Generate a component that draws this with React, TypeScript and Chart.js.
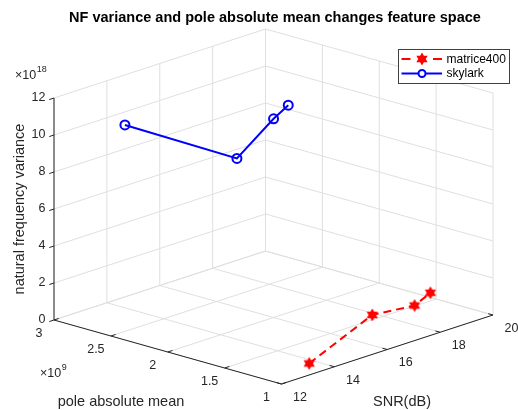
import { useEffect, useRef } from "react";
import { Chart, registerables } from "chart.js";

Chart.register(...registerables);

// Measurements per SNR level (same SNR sweep for both airframes)
const SNR_DB = [13.65, 17.8, 19.1, 20];
const MATRICE_POLE = [1.14e9, 1.55e9, 1.48e9, 1.55e9];
const MATRICE_VAR = [0.1e18, 0.08e18, 0.1e18, 0.25e18];
const SKYLARK_POLE = [2.76e9, 2.74e9, 2.72e9, 2.8e9];
const SKYLARK_VAR = [10.19e18, 6.48e18, 8.05e18, 8.23e18];

// Axis ticks
const SNR_TICKS = [12, 14, 16, 18, 20];
const POLE_TICKS = [1, 1.5, 2, 2.5, 3]; // x 10^9
const VAR_TICKS = [0, 2, 4, 6, 8, 10, 12]; // x 10^18
const POLE_EXP = 9;
const VAR_EXP = 18;

const W = 518;
const H = 410;
const FONT = "'Liberation Sans', Arial, Helvetica, sans-serif";
const AXIS_COLOR = "#262626";
const GRID_COLOR = "#dfdfdf";

// Orthographic view of the 3-D box: screen position of the (min, min, 0) corner
// and the screen vectors spanned by each full axis range.
const ORIGIN = { x: 281.5, y: 384 };
const SNR_SPAN = { x: 211.5, y: -69 };
const POLE_SPAN = { x: -227.5, y: -64 };
const VAR_SPAN = { x: 0, y: -222 };

const snrMin = SNR_TICKS[0];
const snrMax = SNR_TICKS[SNR_TICKS.length - 1];
const poleMin = POLE_TICKS[0];
const poleMax = POLE_TICKS[POLE_TICKS.length - 1];
const varMin = VAR_TICKS[0];
const varMax = VAR_TICKS[VAR_TICKS.length - 1];

// snr in dB, pole in units of 10^POLE_EXP, variance in units of 10^VAR_EXP
function project(snr: number, pole: number, v: number) {
  const a = (snr - snrMin) / (snrMax - snrMin);
  const b = (pole - poleMin) / (poleMax - poleMin);
  const c = (v - varMin) / (varMax - varMin);
  return {
    x: ORIGIN.x + a * SNR_SPAN.x + b * POLE_SPAN.x + c * VAR_SPAN.x,
    y: ORIGIN.y + a * SNR_SPAN.y + b * POLE_SPAN.y + c * VAR_SPAN.y,
  };
}

function toPoints(snr: number[], pole: number[], v: number[]) {
  return snr.map((s, i) =>
    project(s, pole[i] / Math.pow(10, POLE_EXP), v[i] / Math.pow(10, VAR_EXP))
  );
}

function makeHexagram(size: number, color: string) {
  const c = document.createElement("canvas");
  c.width = size;
  c.height = size;
  const g = c.getContext("2d")!;
  const cx = size / 2;
  const cy = size / 2;
  const R = size / 2 - 0.5;
  const r = R * 0.58;
  g.beginPath();
  for (let i = 0; i < 12; i++) {
    const ang = -Math.PI / 2 + (i * Math.PI) / 6;
    const rad = i % 2 === 0 ? R : r;
    const px = cx + rad * Math.cos(ang);
    const py = cy + rad * Math.sin(ang);
    if (i === 0) g.moveTo(px, py);
    else g.lineTo(px, py);
  }
  g.closePath();
  g.fillStyle = color;
  g.fill();
  return c;
}

let hexagramCache: HTMLCanvasElement | null = null;
function hexagram() {
  if (!hexagramCache) hexagramCache = makeHexagram(14, "#ff0000");
  return hexagramCache;
}

function line(ctx: CanvasRenderingContext2D, p: { x: number; y: number }, q: { x: number; y: number }) {
  ctx.beginPath();
  ctx.moveTo(p.x, p.y);
  ctx.lineTo(q.x, q.y);
  ctx.stroke();
}

function unit(v: { x: number; y: number }) {
  const l = Math.hypot(v.x, v.y);
  return { x: v.x / l, y: v.y / l };
}

function drawExponent(ctx: CanvasRenderingContext2D, x: number, y: number, exp: number) {
  ctx.fillStyle = AXIS_COLOR;
  ctx.textAlign = "left";
  ctx.textBaseline = "middle";
  ctx.font = `12.5px ${FONT}`;
  ctx.fillText("\u00d710", x, y);
  const w = ctx.measureText("\u00d710").width;
  ctx.font = `9px ${FONT}`;
  ctx.fillText(String(exp), x + w + 0.5, y - 6);
}

const boxPlugin = {
  id: "box3d",
  beforeDatasetsDraw(chart: Chart) {
    const ctx = chart.ctx;
    ctx.save();

    // title
    ctx.fillStyle = "#000";
    ctx.font = `bold 14.5px ${FONT}`;
    ctx.textAlign = "center";
    ctx.textBaseline = "middle";
    ctx.fillText("NF variance and pole absolute mean changes feature space", 275, 18);

    // grid on the three back planes
    ctx.strokeStyle = GRID_COLOR;
    ctx.lineWidth = 1;
    for (const s of SNR_TICKS) {
      line(ctx, project(s, poleMin, varMin), project(s, poleMax, varMin));
      line(ctx, project(s, poleMax, varMin), project(s, poleMax, varMax));
    }
    for (const p of POLE_TICKS) {
      line(ctx, project(snrMin, p, varMin), project(snrMax, p, varMin));
      line(ctx, project(snrMax, p, varMin), project(snrMax, p, varMax));
    }
    for (const v of VAR_TICKS) {
      line(ctx, project(snrMin, poleMax, v), project(snrMax, poleMax, v));
      line(ctx, project(snrMax, poleMin, v), project(snrMax, poleMax, v));
    }

    // axis lines
    ctx.strokeStyle = AXIS_COLOR;
    line(ctx, project(snrMin, poleMax, varMin), project(snrMin, poleMax, varMax));
    line(ctx, project(snrMin, poleMin, varMin), project(snrMin, poleMax, varMin));
    line(ctx, project(snrMin, poleMin, varMin), project(snrMax, poleMin, varMin));

    const uS = unit(SNR_SPAN);
    const uP = unit(POLE_SPAN);
    const TL = 5;

    ctx.fillStyle = AXIS_COLOR;
    ctx.font = `12.5px ${FONT}`;

    // variance axis ticks and labels
    ctx.textAlign = "right";
    ctx.textBaseline = "middle";
    for (const v of VAR_TICKS) {
      const p = project(snrMin, poleMax, v);
      line(ctx, p, { x: p.x - uS.x * TL, y: p.y - uS.y * TL });
      ctx.fillText(String(v), p.x - 8.5, p.y);
    }

    // pole axis ticks and labels
    ctx.textAlign = "center";
    for (const t of POLE_TICKS) {
      const p = project(snrMin, t, varMin);
      line(ctx, p, { x: p.x + uS.x * TL, y: p.y + uS.y * TL });
      ctx.fillText(String(t), p.x - 15, p.y + 14);
    }

    // SNR axis ticks and labels
    for (const s of SNR_TICKS) {
      const p = project(s, poleMin, varMin);
      line(ctx, p, { x: p.x + uP.x * TL, y: p.y + uP.y * TL });
      ctx.fillText(String(s), p.x + 18.5, p.y + 13.5);
    }

    drawExponent(ctx, 15, 76, VAR_EXP);
    drawExponent(ctx, 40, 374, POLE_EXP);

    // axis titles
    ctx.fillStyle = AXIS_COLOR;
    ctx.font = `14.5px ${FONT}`;
    ctx.textAlign = "center";
    ctx.textBaseline = "middle";
    ctx.fillText("pole absolute mean", 121, 402);
    ctx.fillText("SNR(dB)", 402, 402);
    ctx.translate(20, 209);
    ctx.rotate(-Math.PI / 2);
    ctx.fillText("natural frequency variance", 0, 0);

    ctx.restore();
  },
  afterDatasetsDraw(chart: Chart) {
    const ctx = chart.ctx;
    const star = hexagram();
    ctx.save();
    // legend box
    ctx.fillStyle = "#fff";
    ctx.fillRect(398.5, 49.5, 111, 34);
    ctx.strokeStyle = "#404040";
    ctx.lineWidth = 1;
    ctx.strokeRect(398.5, 49.5, 111, 34);

    // matrice400 entry
    ctx.strokeStyle = "#ff0000";
    ctx.lineWidth = 2;
    line(ctx, { x: 401.5, y: 59 }, { x: 410.5, y: 59 });
    line(ctx, { x: 433, y: 59 }, { x: 442, y: 59 });
    ctx.drawImage(star, 422 - star.width / 2, 59 - star.height / 2);

    // skylark entry
    ctx.strokeStyle = "#0000ff";
    line(ctx, { x: 401.5, y: 73.5 }, { x: 442, y: 73.5 });
    ctx.fillStyle = "#fff";
    ctx.beginPath();
    ctx.arc(422, 73.5, 3.5, 0, Math.PI * 2);
    ctx.fill();
    ctx.stroke();

    ctx.fillStyle = "#000";
    ctx.font = `12px ${FONT}`;
    ctx.textAlign = "left";
    ctx.textBaseline = "middle";
    ctx.fillText("matrice400", 446.5, 59.5);
    ctx.fillText("skylark", 446.5, 74);
    ctx.restore();
  },
};

export default function App() {
  const ref = useRef<HTMLCanvasElement | null>(null);

  useEffect(() => {
    document.body.style.margin = "0";
    const canvas = ref.current;
    if (!canvas) return;

    const chart = new Chart(canvas, {
      type: "scatter",
      data: {
        datasets: [
          {
            label: "matrice400",
            data: toPoints(SNR_DB, MATRICE_POLE, MATRICE_VAR),
            showLine: true,
            borderColor: "#ff0000",
            borderWidth: 2,
            borderDash: [8, 5],
            pointStyle: hexagram(),
            pointRadius: 7,
            clip: false,
          },
          {
            label: "skylark",
            data: toPoints(SNR_DB, SKYLARK_POLE, SKYLARK_VAR),
            showLine: true,
            borderColor: "#0000ff",
            borderWidth: 2,
            pointStyle: "circle",
            pointRadius: 4.5,
            pointBorderWidth: 2,
            pointBorderColor: "#0000ff",
            pointBackgroundColor: "rgba(255,255,255,0)",
            clip: false,
          },
        ],
      },
      options: {
        animation: false,
        responsive: false,
        layout: { padding: 0, autoPadding: false },
        plugins: {
          legend: { display: false },
          title: { display: false },
          tooltip: { enabled: false },
        },
        scales: {
          x: { type: "linear", min: 0, max: W, display: false },
          y: { type: "linear", min: 0, max: H, reverse: true, display: false },
        },
      },
      plugins: [boxPlugin],
    });

    return () => chart.destroy();
  }, []);

  return (
    <div style={{ width: W, height: H, overflow: "hidden", background: "#fff" }}>
      <canvas ref={ref} width={W} height={H} style={{ display: "block" }} />
    </div>
  );
}
